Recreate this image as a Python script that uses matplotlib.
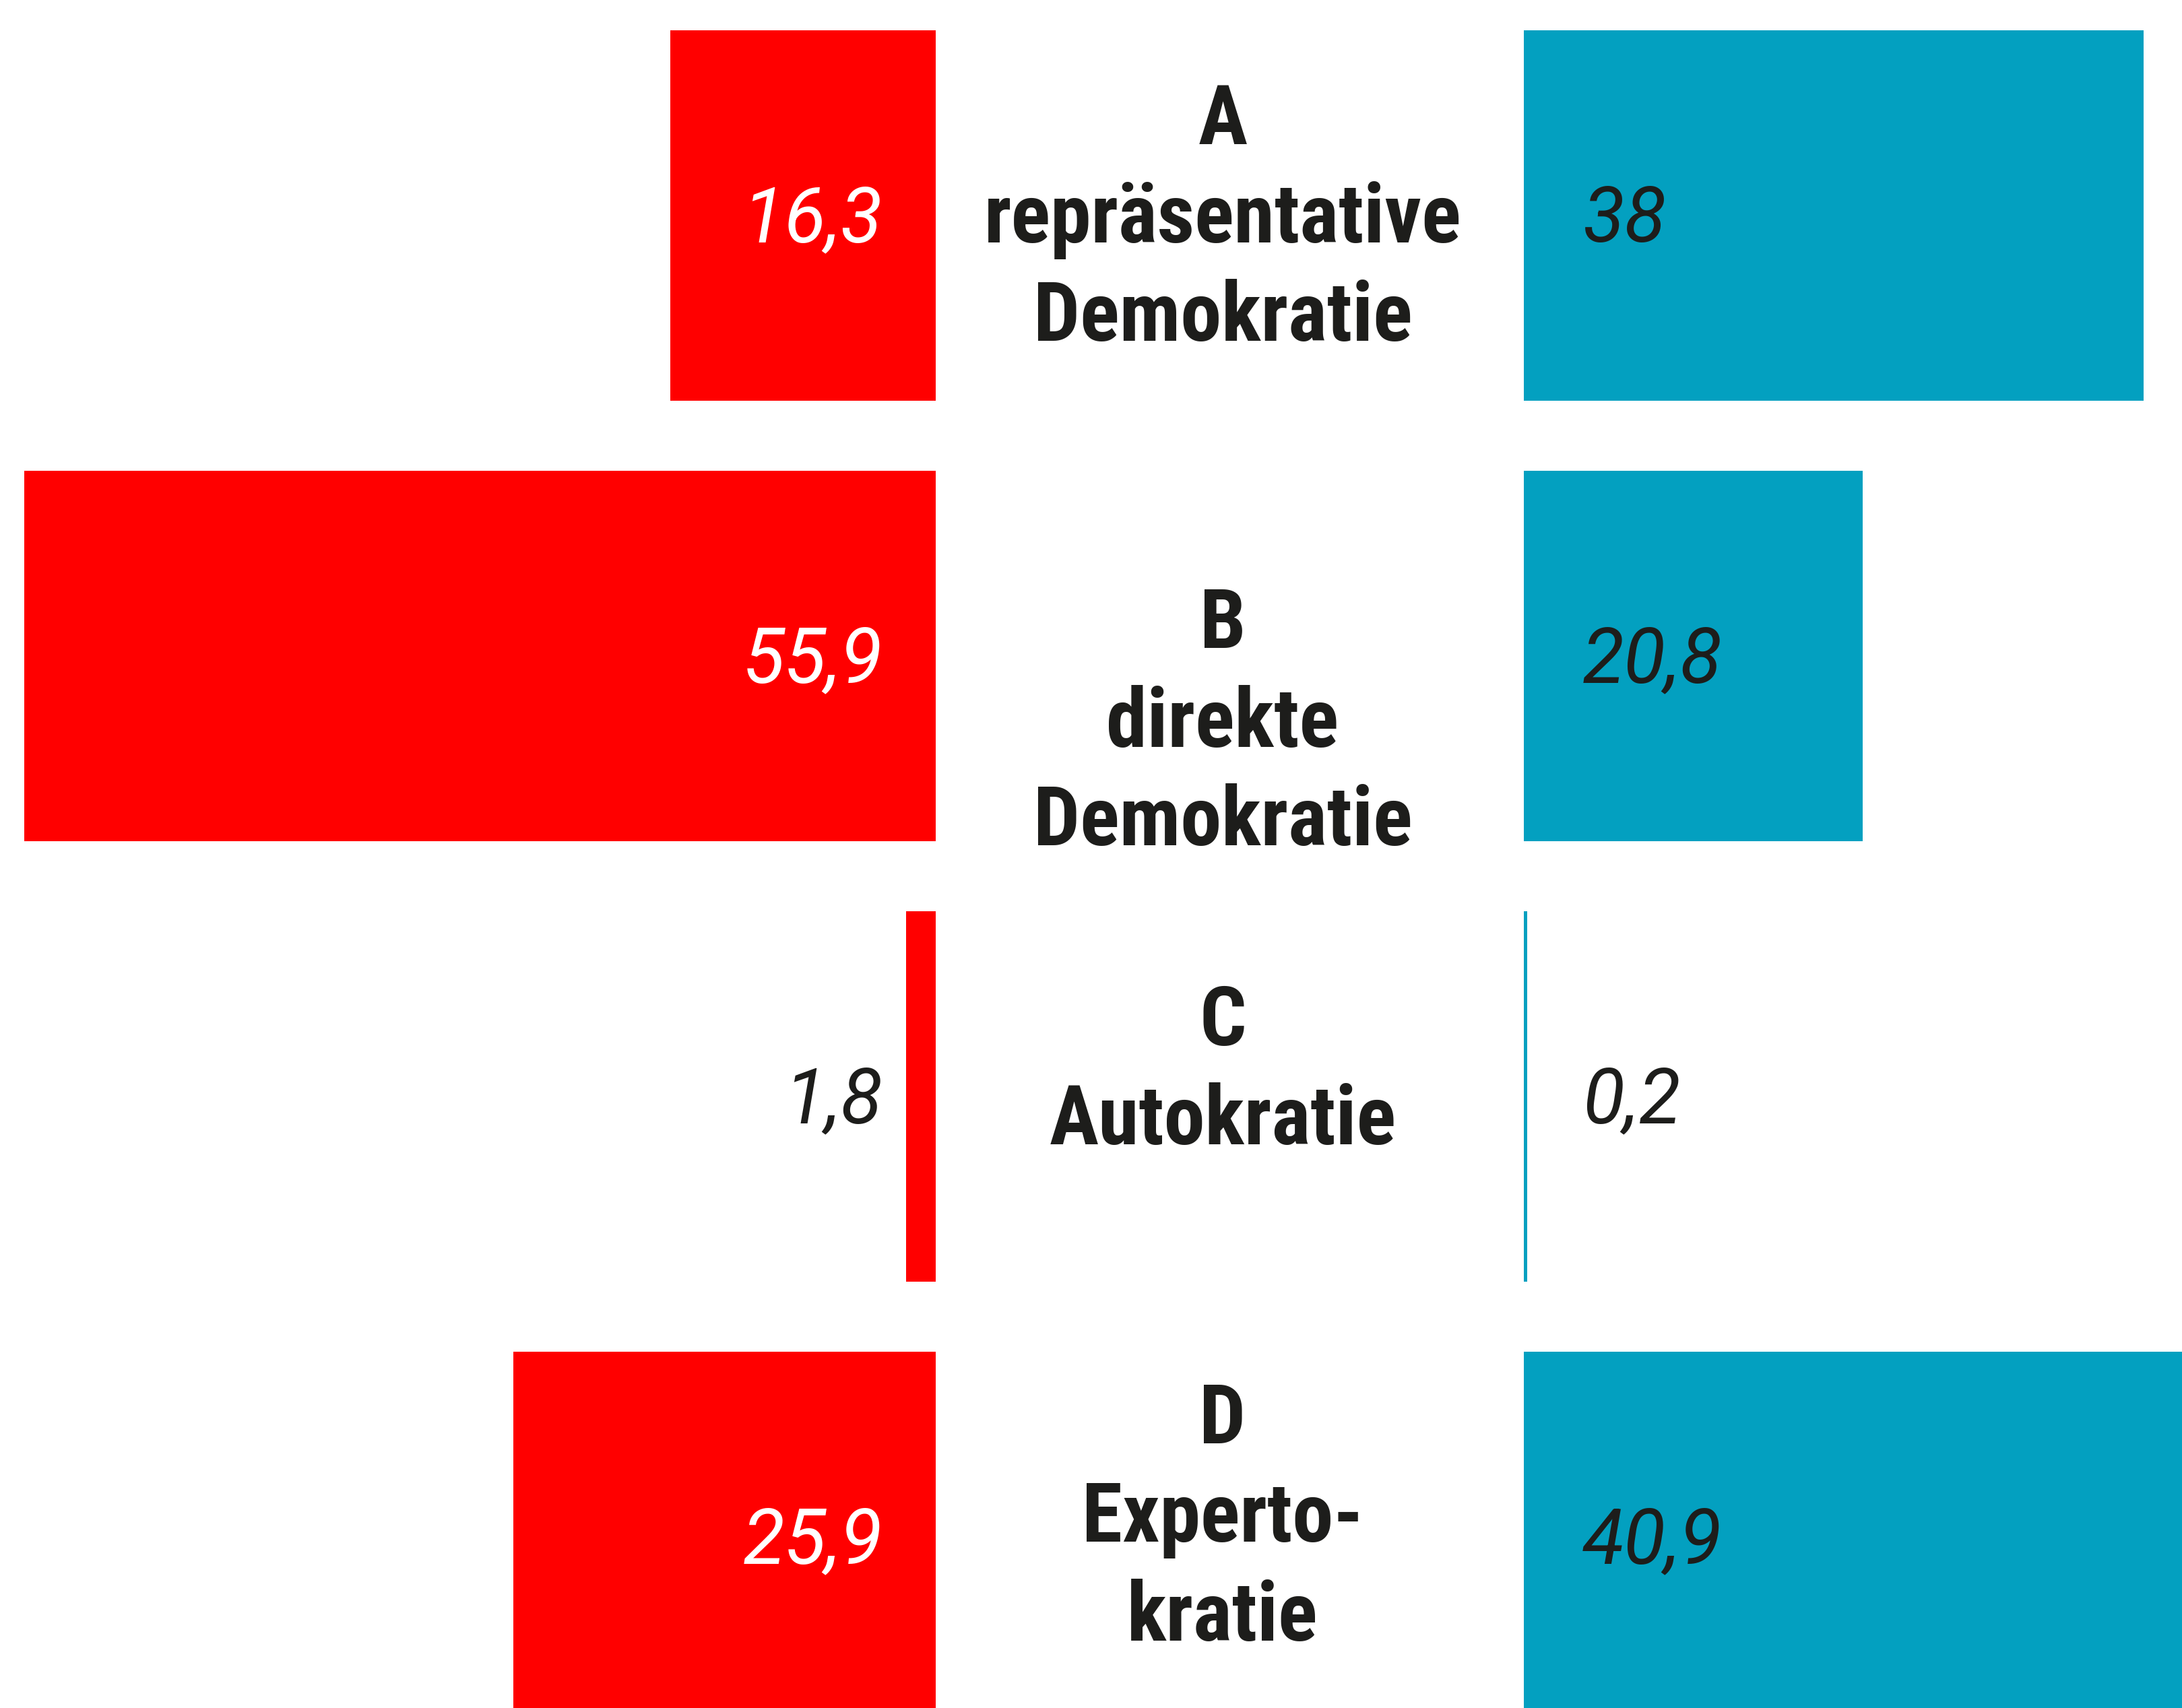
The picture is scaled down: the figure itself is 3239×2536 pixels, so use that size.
import matplotlib
matplotlib.use('Agg')
import matplotlib.pyplot as plt
import matplotlib.transforms as mtransforms
from matplotlib import font_manager as fm

# data
labels = ['A\nrepräsentative\nDemokratie', 'B\ndirekte\nDemokratie',
          'C\nAutokratie', 'D\nExperto-\nkratie']
left_values = [16.3, 55.9, 1.8, 25.9]
right_values = [38, 20.8, 0.2, 40.9]
left_text = ['16,3', '55,9', '1,8', '25,9']
right_text = ['38', '20,8', '0,2', '40,9']

RED = '#ff0000'
TEAL = '#03a0c0'
DARK = '#1d1d1b'

# pick a narrow font if one is around
names = {f.name for f in fm.fontManager.ttflist}
family = 'DejaVu Sans'
for cand in ['Roboto Condensed', 'Liberation Sans Narrow', 'DejaVu Sans Condensed',
             'Open Sans Condensed', 'Noto Sans Condensed']:
    if cand in names:
        family = cand
        break
num_family = 'Roboto' if 'Roboto' in names else 'DejaVu Sans'
plt.rcParams['font.family'] = [family, 'DejaVu Sans']

W, H = 3239, 2536
px_per_unit = 24.2
left_edge, right_edge = 1389, 2262
row0, row_step = 320, 654

fig = plt.figure(figsize=(W / 100, H / 100), dpi=100)
fig.patch.set_facecolor('white')

ylim = ((H - row0) / row_step, -row0 / row_step)
axL = fig.add_axes([0, 0, left_edge / W, 1])
axR = fig.add_axes([right_edge / W, 0, 1 - right_edge / W, 1])
axL.set_xlim(left_edge / px_per_unit, 0)
axR.set_xlim(0, (W - right_edge) / px_per_unit)
for ax in (axL, axR):
    ax.set_ylim(*ylim)
    ax.axis('off')

rows = range(len(labels))
bar_h = 550 / row_step
axL.barh(rows, left_values, height=bar_h, color=RED)
axR.barh(rows, right_values, height=bar_h, color=TEAL)

num_kw = dict(fontsize=82, style='italic', family=[num_family, 'DejaVu Sans'],
              va='baseline')
for i in rows:
    c = 'white' if left_values[i] > 5 else DARK
    axL.text(79 / px_per_unit, i + 0.06, left_text[i], ha='right', color=c, **num_kw)
    axR.text(87 / px_per_unit, i + 0.06, right_text[i], ha='left', color=DARK, **num_kw)

# category labels in the middle
label_shift = [0.01, 0.155, -0.055, -0.04]
trans = mtransforms.blended_transform_factory(fig.transFigure, axL.transData)
for i in rows:
    axL.text(1815 / W, i + label_shift[i], labels[i], transform=trans,
             ha='center', va='center', multialignment='center',
             fontsize=88, fontweight='bold', color=DARK, linespacing=1.32)

fig.savefig('out.png', dpi=100, facecolor='white')
